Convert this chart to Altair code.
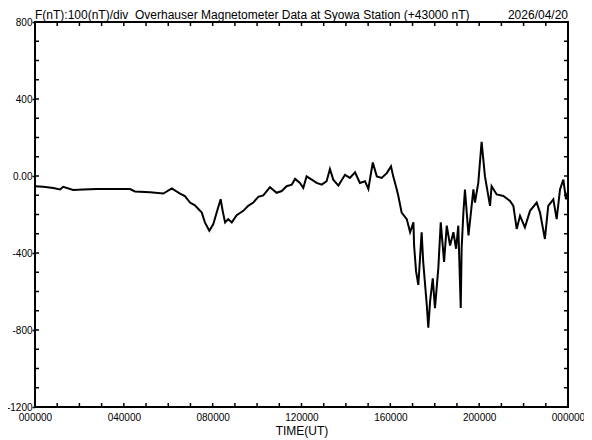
import altair as alt
import pandas as pd

# ---- data (hours UT, nT relative to 43000 nT) ----
hours = [0.00, 0.37, 0.82, 1.13, 1.27, 1.72, 2.17, 2.78, 3.53, 4.28, 4.50, 5.18, 5.78, 6.16, 6.53,
         6.75, 6.98, 7.20, 7.51, 7.65, 7.85, 8.03, 8.18, 8.36, 8.45, 8.56, 8.70, 8.86, 9.08, 9.38,
         9.60, 9.83, 10.05, 10.28, 10.58, 10.88, 11.11, 11.33, 11.56, 11.71, 11.93, 12.08, 12.23,
         12.46, 12.68, 12.91, 13.13, 13.28, 13.43, 13.66, 13.96, 14.18, 14.41, 14.63, 14.86, 15.01,
         15.21, 15.39, 15.61, 15.84, 16.03, 16.13, 16.29, 16.36, 16.51, 16.74, 16.89, 17.04, 17.07,
         17.16, 17.26, 17.41, 17.48, 17.64, 17.71, 17.79, 17.91, 18.01, 18.16, 18.27, 18.42, 18.54,
         18.69, 18.84, 18.96, 19.06, 19.17, 19.21, 19.29, 19.36, 19.52, 19.66, 19.74, 19.81, 19.96,
         20.11, 20.26, 20.49, 20.56, 20.79, 21.09, 21.39, 21.54, 21.69, 21.84, 22.06, 22.29, 22.59,
         22.74, 22.96, 23.11, 23.34, 23.49, 23.64, 23.79, 23.91, 24.00]
nT = [-53, -56, -62, -70, -56, -73, -70, -68, -67, -68, -80, -84, -91, -65, -91,
      -104, -138, -152, -190, -241, -284, -250, -190, -121, -181, -241, -224, -241, -204, -181,
      -155, -138, -108, -101, -58, -87, -78, -53, -45, -15, -36, -62, -2,
      -19, -36, -45, -27, 36, -19, -50, 6, -10, 19, -36, -27, -67,
      70, -2, -10, 15, 50, -2, -70, -104, -190, -224, -292, -241, -361,
      -497, -566, -292, -446, -668, -788, -651, -532, -686, -480, -241, -446, -258,
      -361, -292, -378, -258, -686, -378, -190, -70, -309, -155, -70, -138, -36,
      178, -2, -155, -53, -96, -104, -130, -155, -275, -207, -267, -181, -138,
      -190, -327, -155, -121, -224, -70, -19, -121, -80]

x_label_values = [0, 4, 8, 12, 16, 20, 24]
y_label_values = [-1200, -800, -400, 0, 400, 800]
minor_hours = list(range(0, 25))
minor_nT = list(range(-1200, 801, 100))

title_left = "F(nT):100(nT)/div\u00a0 Overhauser Magnetometer Data at Syowa Station (+43000 nT)"
title_right = "2026/04/20"
x_title = "TIME(UT)"

W, H = 533, 385
FONT = "Liberation Sans"

df = pd.DataFrame({"h": hours, "f": nT})
dfh = pd.DataFrame({"h": minor_hours})
dfv = pd.DataFrame({"f": minor_nT})

xs = alt.Scale(domain=[0, 24], nice=False, zero=False)
ys = alt.Scale(domain=[-1200, 800], nice=False, zero=False)

x_axis = alt.Axis(
    values=x_label_values,
    labelExpr="datum.value == 24 ? '000000' : (datum.value < 10 ? '0' : '') + datum.value + '0000'",
    title=x_title, ticks=False, domain=False, grid=False, labelFlush=False,
    labelFont=FONT, labelFontSize=10, labelColor="black", labelPadding=5,
    titleFont=FONT, titleFontSize=12, titleFontWeight="normal", titleColor="black", titlePadding=3)
y_axis = alt.Axis(
    values=y_label_values,
    labelExpr="datum.value == 0 ? '0.00' : '' + datum.value",
    title="", tickSize=3, tickColor="black", tickWidth=1.5, domain=False, grid=False,
    labelFont=FONT, labelFontSize=10, labelColor="black", labelPadding=0)

line = alt.Chart(df).mark_line(color="black", strokeWidth=2).encode(
    x=alt.X("h:Q", scale=xs, axis=x_axis),
    y=alt.Y("f:Q", scale=ys, axis=y_axis),
)

tick_style = dict(color="black", strokeWidth=1.5)
bottom = alt.Chart(dfh).mark_rule(**tick_style).encode(
    x=alt.X("h:Q", scale=xs, axis=x_axis), y=alt.value(H), y2=alt.value(H - 4))
top = alt.Chart(dfh).mark_rule(**tick_style).encode(
    x=alt.X("h:Q", scale=xs, axis=x_axis), y=alt.value(0), y2=alt.value(4))
left = alt.Chart(dfv).mark_rule(**tick_style).encode(
    y=alt.Y("f:Q", scale=ys, axis=y_axis), x=alt.value(0), x2=alt.value(4))
right = alt.Chart(dfv).mark_rule(**tick_style).encode(
    y=alt.Y("f:Q", scale=ys, axis=y_axis), x=alt.value(W), x2=alt.value(W - 4))

t1 = alt.Chart(pd.DataFrame({"t": [title_left]})).mark_text(
    align="left", baseline="alphabetic", font=FONT, fontSize=12, color="black").encode(
    x=alt.value(0), y=alt.value(-3), text="t:N")
t2 = alt.Chart(pd.DataFrame({"t": [title_right]})).mark_text(
    align="right", baseline="alphabetic", font=FONT, fontSize=12, color="black").encode(
    x=alt.value(W), y=alt.value(-3), text="t:N")

chart = alt.layer(line, bottom, top, left, right, t1, t2).properties(
    width=W, height=H,
    autosize=alt.AutoSizeParams(type="none"),
    padding={"left": 27, "top": 14, "right": 16, "bottom": 32},
    background="white",
).configure_view(stroke="black", strokeWidth=2)

chart.save("out.html", embed_options={"renderer": "svg", "actions": False})
